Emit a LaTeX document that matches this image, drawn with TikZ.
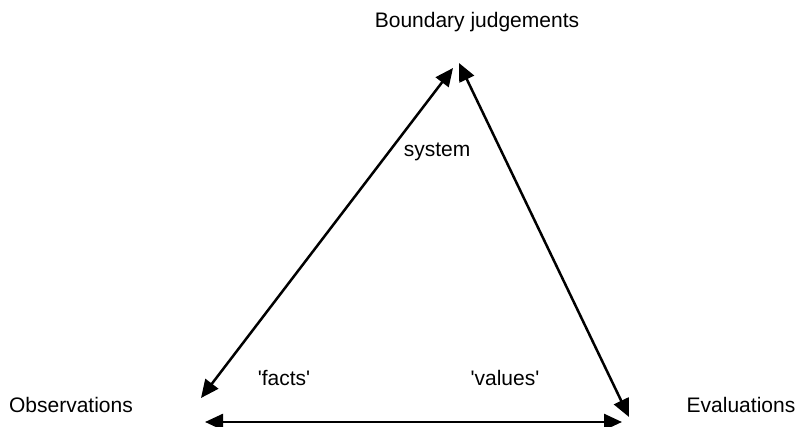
\documentclass[tikz,border=0pt]{standalone}
\usepackage{fontspec}
\setmainfont{Liberation Sans}
\usetikzlibrary{arrows.meta}
\begin{document}
\begin{tikzpicture}[x=1pt, y=-1pt,
    label/.style={font=\fontsize{21}{25}\selectfont, inner sep=0pt},
    link/.style={{Triangle[length=18pt,width=16pt]}-{Triangle[length=18pt,width=16pt]}, line width=2.5pt}]
            \useasboundingbox (0,0) rectangle (797,427);

            \node[label] (B) at (477,22) {Boundary judgements};
            \node[label] (O) at (71,405) {Observations};
            \node[label] (E) at (741,405) {Evaluations};

            \node[label] (sys) at (437,152) {system};
            \node[label] (fac) at (284,378) {\textquotesingle facts\textquotesingle};
            \node[label] (val) at (505,378) {\textquotesingle values\textquotesingle};

            \coordinate (B1) at (453,68);
            \coordinate (B2) at (459,63);
            \coordinate (O1) at (201,398);
            \coordinate (O2) at (205,422);
            \coordinate (E1) at (629,417);
            \coordinate (E2) at (622,422);

            \draw[link] (O1) -- (B1);
            \draw[link] (B2) -- (E1);
            \draw[link] (O2) -- (E2);
\end{tikzpicture}
\end{document}
